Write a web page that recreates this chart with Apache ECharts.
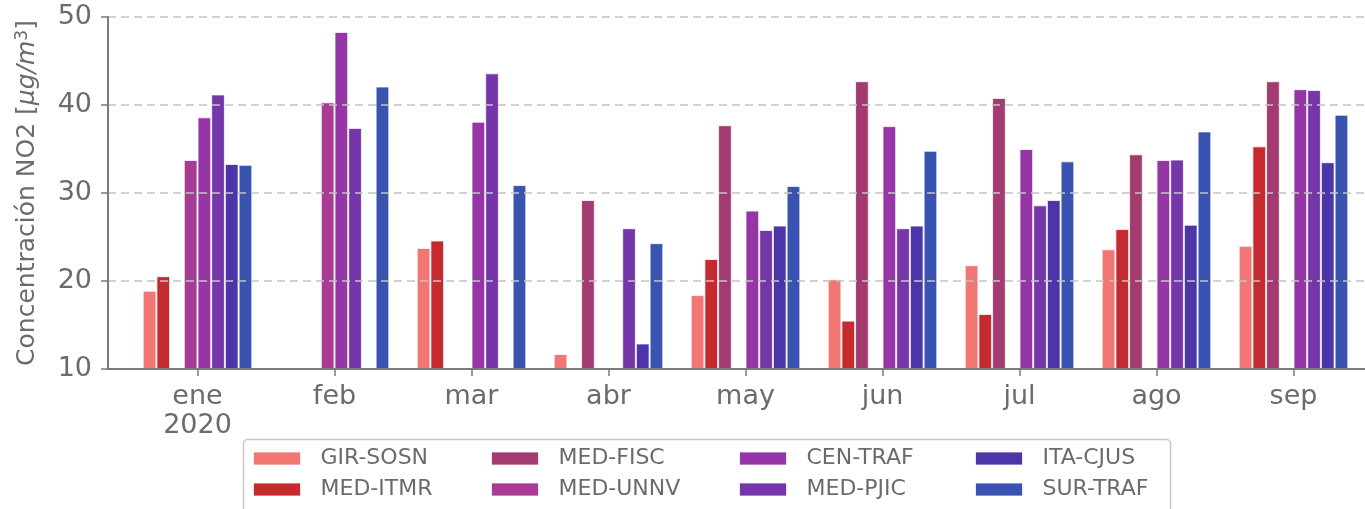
<!DOCTYPE html>
<html>
<head>
<meta charset="utf-8">
<script src="https://cdn.jsdelivr.net/npm/echarts@6/dist/echarts.min.js"></script>
<style>
  html, body { margin: 0; padding: 0; background: #fff; }
  #chart { width: 1365px; height: 509px; }
</style>
</head>
<body>
<div id="chart"></div>
<script>
// NO2 monthly means per station, 2020 (null = no data)
var months = ['ene\n2020', 'feb', 'mar', 'abr', 'may', 'jun', 'jul', 'ago', 'sep'];
var stations = ['GIR-SOSN', 'MED-ITMR', 'MED-FISC', 'MED-UNNV', 'CEN-TRAF', 'MED-PJIC', 'ITA-CJUS', 'SUR-TRAF'];
var girSosn = [18.9, null, 23.75, 11.7, 18.4, 20.2, 21.8, 23.6, 24.0];
var medItmr = [20.55, null, 24.6, null, 22.5, 15.5, 16.25, 25.9, 35.3];
var medFisc = [null, null, null, 29.2, 37.7, 42.7, 40.8, 34.4, 42.7];
var medUnnv = [33.75, 40.3, null, null, null, null, null, null, null];
var cenTraf = [38.6, 48.3, 38.1, null, 28.0, 37.6, 35.0, 33.75, 41.8];
var medPjic = [41.2, 37.4, 43.6, 26.0, 25.8, 26.0, 28.6, 33.8, 41.7];
var itaCjus = [33.3, null, null, 12.9, 26.3, 26.3, 29.2, 26.4, 33.5];
var surTraf = [33.2, 42.1, 30.9, 24.3, 30.8, 34.8, 33.6, 37.0, 38.9];
var yTicks = [10, 20, 30, 40, 50];

var values = [girSosn, medItmr, medFisc, medUnnv, cenTraf, medPjic, itaCjus, surTraf];
var colors = ['#f27674', '#c52b2e', '#a33a70', '#a83b95', '#9636a6', '#7536aa', '#4c35a9', '#3954b0'];
var ink = '#6b6b6b';
var axisGrey = '#7a7a7a';
var font = 'DejaVu Sans, sans-serif';

var chart = echarts.init(document.getElementById('chart'), null, { renderer: 'canvas' });

var series = stations.map(function(name, i) {
  return {
    name: name,
    type: 'bar',
    xAxisIndex: 0,
    yAxisIndex: 0,
    data: values[i],
    barGap: 0,
    barCategoryGap: '20%',
    itemStyle: { color: colors[i], borderColor: 'rgba(255,255,255,0.75)', borderWidth: 1 }
  };
});

// one legend per entry so the 2x4 column layout of the original is kept
var legendLeft = [253, 491, 739, 975];
var legendTop = [447.5, 478.5];
var legends = stations.map(function(name, i) {
  return {
    left: legendLeft[Math.floor(i / 2)],
    top: legendTop[i % 2],
    padding: 0,
    itemWidth: 47,
    itemHeight: 13,
    icon: 'rect',
    selectedMode: false,
    data: [name],
    itemStyle: { borderColor: 'rgba(255,255,255,0.75)', borderWidth: 1 },
    textStyle: { color: ink, fontFamily: font, fontSize: 22, padding: [0, 0, 0, 15] }
  };
});

chart.setOption({
  animation: false,
  color: colors,
  grid: [
    { left: 129, right: 3, top: 17, bottom: 140 },
    { left: 108, right: 0, top: 17, bottom: 140 }
  ],
  xAxis: [
    {
      type: 'category',
      gridIndex: 0,
      data: months,
      axisLine: { show: false },
      axisTick: { show: true, alignWithLabel: true, length: 7, lineStyle: { color: axisGrey, width: 1.5 } },
      axisLabel: { color: ink, fontFamily: font, fontSize: 27, margin: 13, lineHeight: 29 }
    },
    {
      type: 'value',
      gridIndex: 1,
      min: 0,
      max: 1,
      z: 5,
      axisLine: { show: true, lineStyle: { color: axisGrey, width: 2 } },
      axisTick: { show: false },
      axisLabel: { show: false },
      splitLine: { show: false }
    }
  ],
  yAxis: [
    { type: 'value', gridIndex: 0, min: yTicks[0], max: yTicks[yTicks.length - 1], show: false },
    {
      type: 'value',
      gridIndex: 1,
      min: yTicks[0],
      max: yTicks[yTicks.length - 1],
      interval: 10,
      z: 5,
      axisLine: { show: true, lineStyle: { color: axisGrey, width: 2 } },
      axisTick: { show: true, length: 7, lineStyle: { color: axisGrey, width: 1.5 } },
      axisLabel: { color: ink, fontFamily: font, fontSize: 27, margin: 16 },
      splitLine: { show: true, lineStyle: { color: '#c4c4c4', type: [8, 5], width: 1.5 } },
      name: 'Concentración NO2 [{i|μg/m}{s|3}]',
      nameLocation: 'middle',
      nameGap: 67,
      nameRotate: 90,
      nameTextStyle: {
        color: ink, fontFamily: font, fontSize: 25,
        rich: {
          i: { color: ink, fontFamily: font, fontSize: 25, fontStyle: 'italic' },
          s: { color: ink, fontFamily: font, fontSize: 17, verticalAlign: 'top', padding: [0, 0, 10, 0] }
        }
      }
    }
  ],
  legend: legends,
  graphic: [{
    type: 'rect',
    shape: { x: 243.5, y: 439.5, width: 927, height: 80, r: 4 },
    style: { fill: 'rgba(255,255,255,0.8)', stroke: '#c8c8c8', lineWidth: 1.5 },
    z: -1
  }],
  series: series
});
</script>
</body>
</html>
